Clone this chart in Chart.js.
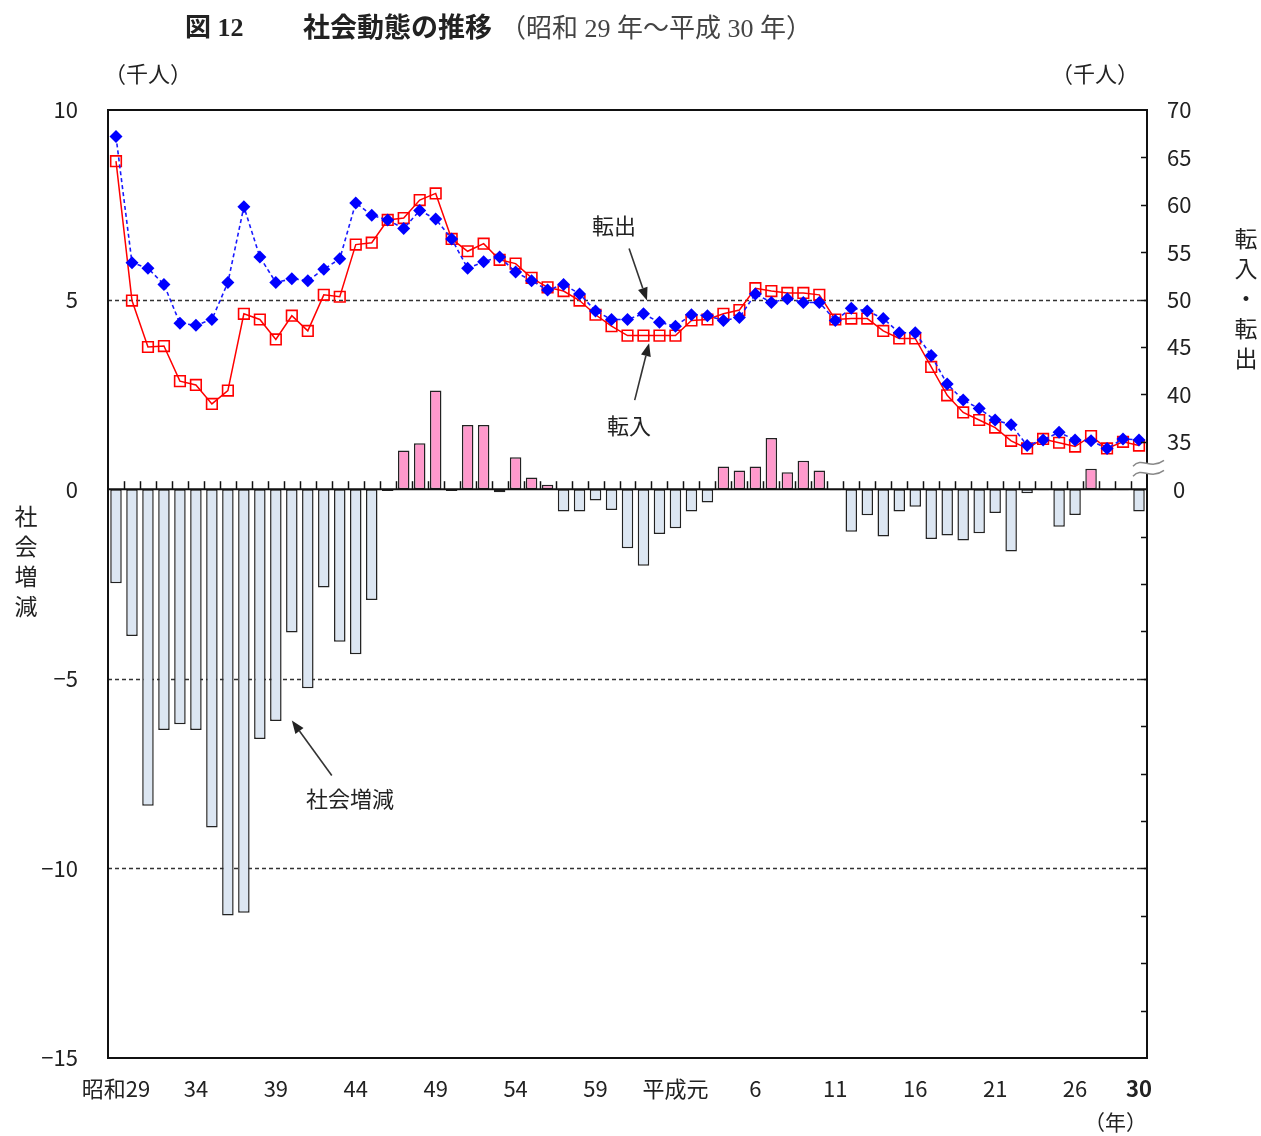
<!DOCTYPE html>
<html lang="ja">
<head>
<meta charset="utf-8">
<title>社会動態の推移</title>
<script src="https://cdn.jsdelivr.net/npm/chart.js@4.4.1/dist/chart.umd.min.js"></script>
<style>
  body { margin: 0; background: #fff; }
  #wrap { position: relative; width: 1261px; height: 1136px; overflow: hidden; }
  #chart { position: absolute; left: 0; top: 0; }
  .t { position: absolute; color: #222; font-family: "Noto Sans CJK JP", sans-serif; white-space: nowrap; line-height: 1; }
  .serif { font-family: "Liberation Serif", "Noto Sans CJK JP", serif; }
  .vert { text-align: center; width: 26px; font-size: 23px; line-height: 30px; }
</style>
</head>
<body>
<div id="wrap">
  <canvas id="chart" width="1261" height="1136"></canvas>

  <!-- タイトル -->
  <div class="t serif" style="left:185px; top:15px; font-size:26px; font-weight:bold;">図 12</div>
  <div class="t serif" style="left:303px; top:15px; font-size:27px; font-weight:bold;">社会動態の推移</div>
  <div class="t serif" style="left:500px; top:16px; font-size:26px; color:#444;">（昭和 29 年～平成 30 年）</div>

  <!-- 単位 -->
  <div class="t" style="left:104px; top:61px; font-size:22px;">（千人）</div>
  <div class="t" style="left:1051px; top:61px; font-size:22px;">（千人）</div>
  <div class="t" style="left:1084px; top:1111px; font-size:21px;">（年）</div>

  <!-- 縦の軸タイトル -->
  <div class="t vert" style="left:1233px; top:222px;">転<br>入<br>・<br>転<br>出</div>
  <div class="t vert" style="left:13px; top:500px;">社<br>会<br>増<br>減</div>
</div>

<script>
// 年（昭和29年〜平成30年）
const categories = [
  '昭和29', '昭和30', '昭和31', '昭和32', '昭和33', '昭和34', '昭和35', '昭和36', '昭和37', '昭和38',
  '昭和39', '昭和40', '昭和41', '昭和42', '昭和43', '昭和44', '昭和45', '昭和46', '昭和47', '昭和48',
  '昭和49', '昭和50', '昭和51', '昭和52', '昭和53', '昭和54', '昭和55', '昭和56', '昭和57', '昭和58',
  '昭和59', '昭和60', '昭和61', '昭和62', '昭和63', '平成元', '平成2', '平成3', '平成4', '平成5',
  '平成6', '平成7', '平成8', '平成9', '平成10', '平成11', '平成12', '平成13', '平成14', '平成15',
  '平成16', '平成17', '平成18', '平成19', '平成20', '平成21', '平成22', '平成23', '平成24', '平成25',
  '平成26', '平成27', '平成28', '平成29', '平成30'
];

// 横軸に表示するラベル
const tickLabels = [
  '昭和29', '', '', '', '', '34', '', '', '', '',
  '39', '', '', '', '', '44', '', '', '', '',
  '49', '', '', '', '', '54', '', '', '', '',
  '59', '', '', '', '', '平成元', '', '', '', '',
  '6', '', '', '', '', '11', '', '', '', '',
  '16', '', '', '', '', '21', '', '', '', '',
  '26', '', '', '', '30'
];

// 社会増減（千人）
const socialChange = [
  -2.48, -3.87, -8.35, -6.35, -6.20, -6.35, -8.92, -11.24, -11.17, -6.59,
  -6.11, -3.78, -5.25, -2.59, -4.02, -4.35, -2.92, -0.05, 1.02, 1.21,
  2.60, -0.05, 1.69, 1.69, -0.08, 0.84, 0.31, 0.12, -0.59, -0.59,
  -0.30, -0.55, -1.56, -2.02, -1.18, -1.03, -0.59, -0.35, 0.60, 0.49,
  0.60, 1.35, 0.45, 0.75, 0.49, -0.03, -1.12, -0.69, -1.25, -0.59,
  -0.46, -1.31, -1.22, -1.35, -1.16, -0.63, -1.64, -0.11, -0.03, -0.99,
  -0.68, 0.54, -0.03, -0.03, -0.59
];

// 転入（千人）
const moveIn = [
  64.6, 49.9, 45.0, 45.1, 41.4, 41.0, 39.0, 40.4, 48.5, 47.9,
  45.8, 48.3, 46.7, 50.5, 50.3, 55.8, 56.0, 58.4, 58.6, 60.5,
  61.2, 56.4, 55.1, 55.9, 54.2, 53.8, 52.3, 51.3, 50.9, 49.9,
  48.4, 47.2, 46.2, 46.2, 46.2, 46.2, 47.8, 47.9, 48.5, 48.9,
  51.2, 50.9, 50.7, 50.7, 50.5, 47.9, 48.0, 48.0, 46.7, 45.9,
  45.9, 42.9, 39.9, 38.1, 37.3, 36.5, 35.1, 34.3, 35.3, 34.9,
  34.5, 35.6, 34.3, 35.0, 34.6
];

// 転出（千人）
const moveOut = [
  67.2, 53.9, 53.3, 51.6, 47.5, 47.3, 47.9, 51.8, 59.8, 54.5,
  51.8, 52.2, 52.0, 53.2, 54.3, 60.2, 58.9, 58.4, 57.5, 59.4,
  58.5, 56.4, 53.3, 54.0, 54.5, 52.9, 52.0, 51.0, 51.6, 50.6,
  48.8, 47.9, 47.9, 48.5, 47.6, 47.2, 48.4, 48.3, 47.8, 48.1,
  50.6, 49.7, 50.1, 49.7, 49.7, 47.8, 49.1, 48.8, 48.0, 46.5,
  46.5, 44.1, 41.1, 39.4, 38.5, 37.3, 36.8, 34.6, 35.2, 36.0,
  35.2, 35.1, 34.3, 35.3, 35.2
];

// 右軸（転入・転出）の目盛り。30 の位置は「0」と表示（≈ で省略）
const rightTicks = [30, 35, 40, 45, 50, 55, 60, 65, 70];
const rightTickLabels = ['0', '35', '40', '45', '50', '55', '60', '65', '70'];

const FONT = '"Noto Sans CJK JP", sans-serif';

// 線を引く小さなヘルパー
function line(ctx, x1, y1, x2, y2) {
    ctx.beginPath();
    ctx.moveTo(x1, y1);
    ctx.lineTo(x2, y2);
    ctx.stroke();
}

function arrow(ctx, x1, y1, x2, y2) {
    const ang = Math.atan2(y2 - y1, x2 - x1);
    const len = 13, half = 5;
    const bx = x2 - len * Math.cos(ang), by = y2 - len * Math.sin(ang);
    line(ctx, x1, y1, bx, by);
    ctx.beginPath();
    ctx.moveTo(x2, y2);
    ctx.lineTo(bx + half * Math.sin(ang), by - half * Math.cos(ang));
    ctx.lineTo(bx - half * Math.sin(ang), by + half * Math.cos(ang));
    ctx.closePath();
    ctx.fill();
}

// 枠・補助線・注記などの描画
const decorations = {
    id: 'decorations',
    beforeDatasetsDraw(chart) {
        const { ctx, chartArea: a, scales: { y } } = chart;
        ctx.save();
        ctx.strokeStyle = '#333';
        ctx.lineWidth = 1.3;
        ctx.setLineDash([4, 3]);
        [5, -5, -10].forEach(v => {
            const py = Math.round(y.getPixelForValue(v)) + 0.5;
            line(ctx, a.left, py, a.right, py);
        });
        ctx.restore();
    },
    afterDatasetDraw(chart, args) {
        if (args.meta.type !== 'bar') return;
        const { ctx, chartArea: a, scales: { x, y } } = chart;
        const y0 = y.getPixelForValue(0);
        ctx.save();
        ctx.strokeStyle = '#111';
        ctx.lineWidth = 2;
        line(ctx, a.left, y0, a.right, y0);
        // 0 の線上の目盛り（年の区切り）
        ctx.lineWidth = 1.5;
        for (let i = 0; i < categories.length - 1; i++) {
            const bx = Math.round((x.getPixelForValue(i) + x.getPixelForValue(i + 1)) / 2) + 0.5;
            line(ctx, bx, y0, bx, y0 - 8);
        }
        ctx.restore();
    },
    afterDraw(chart) {
        const { ctx, chartArea: a, scales: { x, y, y2 } } = chart;
        ctx.save();

        // 右軸の内向き目盛り
        ctx.strokeStyle = '#111';
        ctx.lineWidth = 1.5;
        for (let v = -25; v <= 65; v += 5) {
            if (v === 30) continue;
            const py = Math.round(y2.getPixelForValue(v)) + 0.5;
            line(ctx, a.right - 6, py, a.right, py);
        }

        // 枠
        ctx.lineWidth = 2;
        ctx.strokeRect(a.left, a.top, a.right - a.left, a.bottom - a.top);

        // 省略記号 ≈
        const cy = y2.getPixelForValue(32.2);
        const wx1 = a.right - 14, wx2 = a.right + 17;
        const wave = (off) => {
            ctx.moveTo(wx1, cy + off + 3);
            ctx.bezierCurveTo(wx1 + 9, cy + off - 7, wx2 - 14, cy + off + 7, wx2, cy + off - 3);
        };
        ctx.fillStyle = '#fff';
        ctx.beginPath();
        ctx.moveTo(wx1, cy - 2);
        ctx.bezierCurveTo(wx1 + 9, cy - 12, wx2 - 14, cy + 2, wx2, cy - 8);
        ctx.lineTo(wx2, cy + 2);
        ctx.bezierCurveTo(wx2 - 14, cy + 12, wx1 + 9, cy - 2, wx1, cy + 8);
        ctx.closePath();
        ctx.fill();
        ctx.strokeStyle = '#888';
        ctx.lineWidth = 1.5;
        ctx.beginPath();
        wave(-5);
        wave(5);
        ctx.stroke();

        // 注記
        ctx.fillStyle = '#222';
        ctx.strokeStyle = '#333';
        ctx.lineWidth = 1.6;
        ctx.font = '22px ' + FONT;
        ctx.textAlign = 'center';
        ctx.textBaseline = 'middle';

        ctx.fillText('転出', x.getPixelForValue(31.16), y2.getPixelForValue(57.8));
        arrow(ctx, x.getPixelForValue(32.1), y2.getPixelForValue(55.4),
                   x.getPixelForValue(33.22), y2.getPixelForValue(49.9));

        ctx.fillText('転入', x.getPixelForValue(32.1), y2.getPixelForValue(36.7));
        arrow(ctx, x.getPixelForValue(32.45), y2.getPixelForValue(39.4),
                   x.getPixelForValue(33.35), y2.getPixelForValue(45.4));

        ctx.fillText('社会増減', x.getPixelForValue(14.64), y.getPixelForValue(-8.16));
        arrow(ctx, x.getPixelForValue(13.5), y.getPixelForValue(-7.55),
                   x.getPixelForValue(11.0), y.getPixelForValue(-6.1));

        ctx.restore();
    }
};

const ctx = document.getElementById('chart').getContext('2d');

const chart = new Chart(ctx, {
    data: {
        labels: categories,
        datasets: [
            {
                type: 'line',
                label: '転出',
                data: moveOut,
                yAxisID: 'y2',
                borderColor: '#1a1aff',
                borderWidth: 1.6,
                borderDash: [4, 3],
                pointStyle: 'rectRot',
                pointRadius: 6.5,
                pointBackgroundColor: '#0000ff',
                pointBorderColor: '#0000ff',
                pointBorderWidth: 0,
                tension: 0,
                order: 0
            },
            {
                type: 'line',
                label: '転入',
                data: moveIn,
                yAxisID: 'y2',
                borderColor: '#ff0000',
                borderWidth: 1.5,
                pointStyle: 'rect',
                pointRadius: 7.5,
                pointBackgroundColor: 'rgba(255,255,255,0)',
                pointBorderColor: '#ff0000',
                pointBorderWidth: 1.6,
                tension: 0,
                order: 1
            },
            {
                type: 'bar',
                label: '社会増減',
                data: socialChange,
                yAxisID: 'y',
                backgroundColor: c => (c.raw >= 0 ? '#ff99cc' : '#dce6f2'),
                borderColor: '#222',
                borderWidth: 1.5,
                borderSkipped: false,
                barPercentage: 0.72,
                categoryPercentage: 1,
                order: 2
            }
        ]
    },
    options: {
        responsive: false,
        animation: false,
        events: [],
        layout: { padding: { top: 110, left: 0, right: 0, bottom: 0 } },
        plugins: {
            legend: { display: false },
            tooltip: { enabled: false }
        },
        scales: {
            x: {
                type: 'category',
                offset: true,
                grid: { display: false, drawTicks: false },
                border: { display: false },
                ticks: {
                    autoSkip: false,
                    maxRotation: 0,
                    minRotation: 0,
                    padding: 17,
                    color: '#222',
                    font: c => ({ family: FONT, size: 22, weight: c.index === 64 ? 'bold' : 'normal' }),
                    callback: (v, i) => tickLabels[i]
                },
                afterFit: s => { s.height = 78; }
            },
            y: {
                position: 'left',
                min: -15,
                max: 10,
                grid: { display: false, drawTicks: false },
                border: { display: false },
                ticks: {
                    stepSize: 5,
                    padding: 30,
                    color: '#222',
                    font: { family: FONT, size: 22 },
                    callback: v => String(v).replace('-', '−')
                },
                afterFit: s => { s.width = 108; }
            },
            y2: {
                position: 'right',
                min: -30,
                max: 70,
                grid: { display: false, drawTicks: false },
                border: { display: false },
                afterBuildTicks: s => { s.ticks = rightTicks.map(v => ({ value: v })); },
                ticks: {
                    padding: 20,
                    crossAlign: 'center',
                    color: '#222',
                    font: { family: FONT, size: 22 },
                    callback: v => rightTickLabels[rightTicks.indexOf(v)]
                },
                afterFit: s => { s.width = 114; }
            }
        }
    },
    plugins: [decorations]
});
</script>
</body>
</html>
